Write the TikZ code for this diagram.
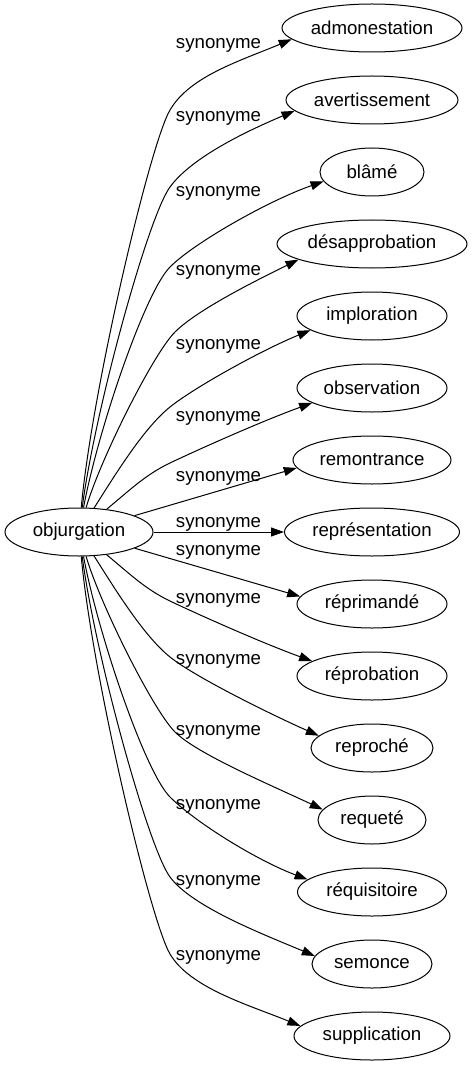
\documentclass[tikz,border=0pt]{standalone}
\usepackage{fontspec}
\setmainfont{Liberation Sans}
\usetikzlibrary{arrows.meta,shapes.geometric}
\newcommand\lblsize{\fontsize{18.67pt}{22pt}\selectfont}
\begin{document}
\begin{tikzpicture}[x=1pt,y=-1pt,
  word/.style={draw, ellipse, line width=1pt, inner sep=0pt, minimum height=48pt, font=\lblsize},
  rel/.style={font=\lblsize, inner sep=0pt, anchor=base},
  link/.style={line width=1pt, -{Triangle[length=13pt,width=9pt]}}]
\path[use as bounding box] (0,0) rectangle (472,1067);

\node[word, minimum width=148pt] (o) at (79,532) {objurgation};
\node[word, minimum width=180pt] (n1) at (372,28) {admonestation};
\node[word, minimum width=172pt] (n2) at (372,100) {avertissement};
\node[word, minimum width=104pt] (n3) at (372,172) {blâmé};
\node[word, minimum width=190pt] (n4) at (372,244) {désapprobation};
\node[word, minimum width=150pt] (n5) at (372,316) {imploration};
\node[word, minimum width=150pt] (n6) at (372,388) {observation};
\node[word, minimum width=158pt] (n7) at (372,460) {remontrance};
\node[word, minimum width=175pt] (n8) at (372,532) {représentation};
\node[word, minimum width=150pt] (n9) at (372,604) {réprimandé};
\node[word, minimum width=150pt] (n10) at (372,676) {réprobation};
\node[word, minimum width=122pt] (n11) at (372,748) {reproché};
\node[word, minimum width=108pt] (n12) at (372,820) {requeté};
\node[word, minimum width=149pt] (n13) at (372,892) {réquisitoire};
\node[word, minimum width=120pt] (n14) at (372,964) {semonce};
\node[word, minimum width=156pt] (n15) at (372,1036) {supplication};

\draw[link] (o) .. controls (92,390) and (150,144) .. (170,110) .. controls (190,76) and (240,61) .. (n1.188);
\draw[link] (o) .. controls (95,410) and (148,217) .. (170,187) .. controls (192,157) and (247,131) .. (n2.188);
\draw[link] (o) .. controls (98,430) and (145,292) .. (170,267) .. controls (195,242) and (270,200) .. (n3.191);
\draw[link] (o) .. controls (100,460) and (153,354) .. (175,332) .. controls (197,310) and (255,281) .. (n4.192);
\draw[link] (o) .. controls (118,470) and (145,427) .. (170,407) .. controls (195,387) and (262,350) .. (n5.193);
\draw[link] (o) .. controls (130,490) and (145,475) .. (170,463) .. controls (195,451) and (262,421) .. (n6.194);
\draw[link] (o) -- (n7.186);
\draw[link] (o) -- (n8);
\draw[link] (o) -- (n9.174);
\draw[link] (o) .. controls (130,574) and (145,589) .. (170,601) .. controls (195,613) and (262,643) .. (n10.166);
\draw[link] (o) .. controls (118,594) and (145,637) .. (170,657) .. controls (195,677) and (270,714) .. (n11.167);
\draw[link] (o) .. controls (100,604) and (153,710) .. (175,732) .. controls (197,754) and (273,786) .. (n12.168);
\draw[link] (o) .. controls (98,634) and (145,772) .. (170,797) .. controls (195,822) and (256,860) .. (n13.169);
\draw[link] (o) .. controls (95,654) and (148,847) .. (170,877) .. controls (192,907) and (265,935) .. (n14.172);
\draw[link] (o) .. controls (92,674) and (150,920) .. (170,954) .. controls (190,988) and (249,1005) .. (n15.172);

\node[rel] (l1) at (218.5,49) {synonyme};
\node[rel] (l2) at (218.5,122) {synonyme};
\node[rel] (l3) at (218.5,197) {synonyme};
\node[rel] (l4) at (218.5,275) {synonyme};
\node[rel] (l5) at (218.5,349) {synonyme};
\node[rel] (l6) at (218.5,421) {synonyme};
\node[rel] (l7) at (218.5,481) {synonyme};
\node[rel] (l8) at (218.5,527) {synonyme};
\node[rel] (l9) at (218.5,555) {synonyme};
\node[rel] (l10) at (218.5,603) {synonyme};
\node[rel] (l11) at (218.5,664) {synonyme};
\node[rel] (l12) at (218.5,735) {synonyme};
\node[rel] (l13) at (218.5,809) {synonyme};
\node[rel] (l14) at (218.5,885) {synonyme};
\node[rel] (l15) at (218.5,960) {synonyme};
\end{tikzpicture}
\end{document}
